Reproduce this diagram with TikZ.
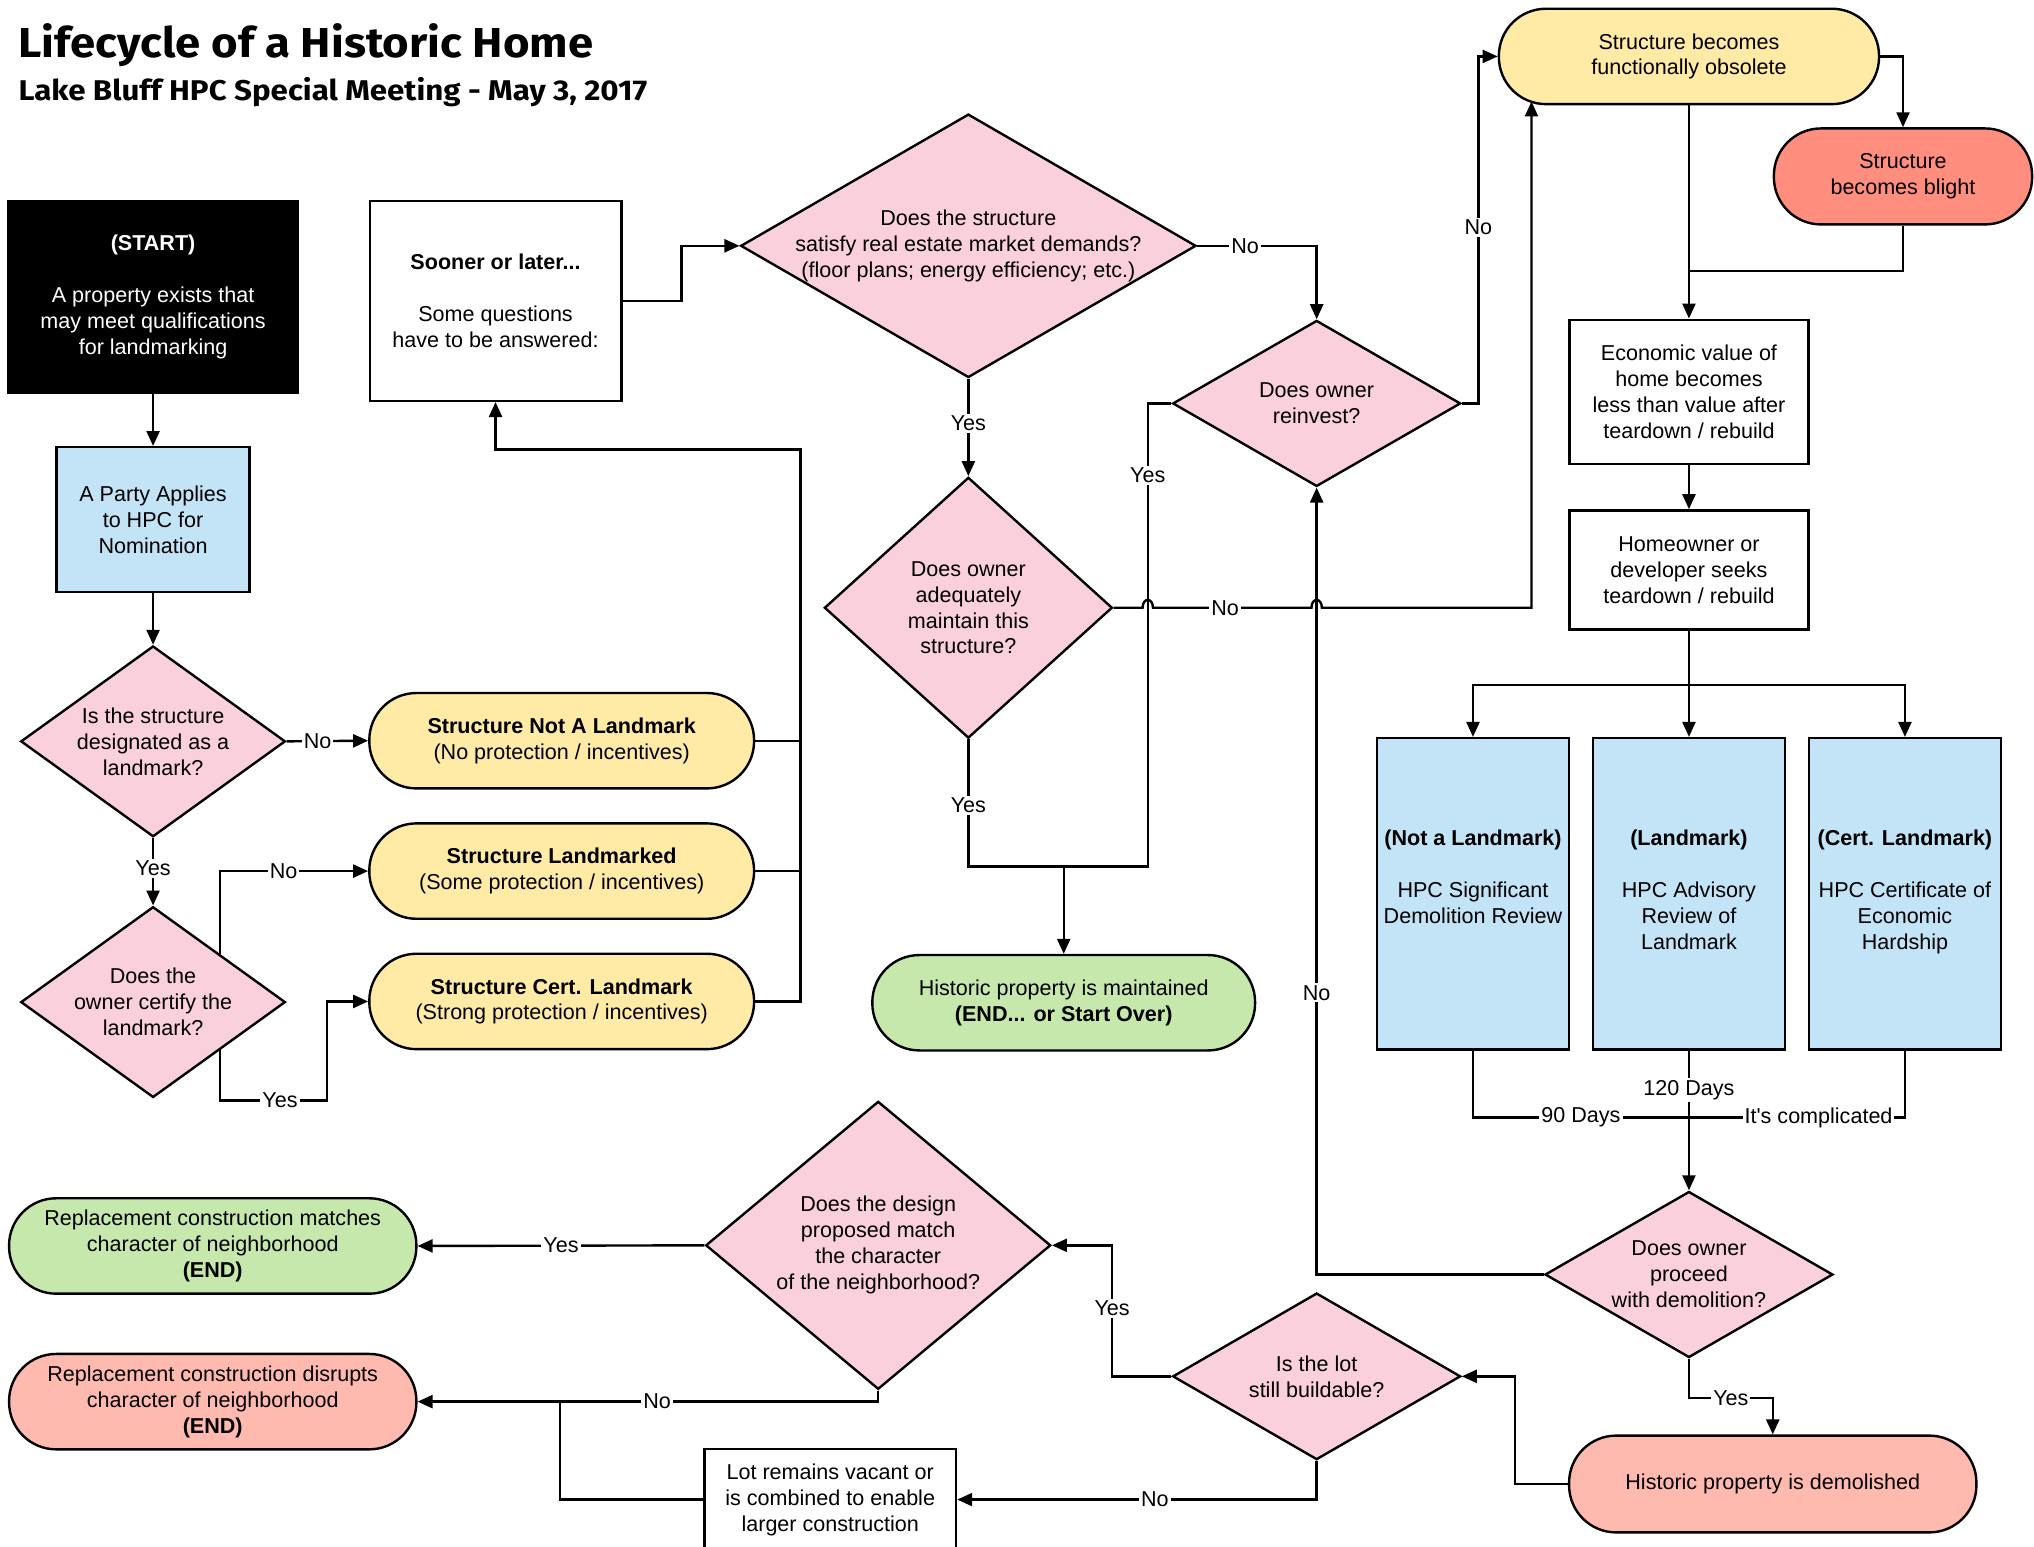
\documentclass[tikz,border=0pt]{standalone}
\usepackage{fontspec}
\usepackage{graphicx}
\setmainfont{Liberation Sans}
\newfontfamily\titlefont{Fira Sans}
\usetikzlibrary{shapes.geometric,arrows.meta}
\definecolor{pinkD}{HTML}{F9D0DC}
\definecolor{yel}{HTML}{FFEBA6}
\definecolor{blu}{HTML}{C2E4F6}
\definecolor{grn}{HTML}{C7E8AC}
\definecolor{redA}{HTML}{FF8E7F}
\definecolor{redB}{HTML}{FFBAB0}
\tikzset{
  ln/.style={line width=1.2pt},
  arr/.style={ln,-{Triangle[length=7.5pt,width=6.5pt]}},
  dia/.style={diamond,draw,ln,fill=pinkD,inner sep=0pt},
  dtext/.style={align=center,inner sep=0pt},
  box/.style={rectangle,draw,ln,align=center,inner sep=0pt},
  term/.style={rectangle,draw,ln,align=center,inner sep=0pt,rounded corners=23.6pt,minimum height=47.8pt},
  lbl/.style={fill=white,inner sep=1pt},
}
\begin{document}
\begin{tikzpicture}[x=0.65pt,y=-0.65pt,font=\fontsize{10.8}{13}\selectfont]
\useasboundingbox (0,0) rectangle (1568,1192);
\clip (0,0) rectangle (1568,1192);

% titles
\node[anchor=base west,inner sep=0] (title) at (14,44.5) {\resizebox{288pt}{17pt}{\titlefont\bfseries Lifecycle of a Historic Home}};
\node[anchor=base west,inner sep=0] (subtitle) at (14,77.5) {\resizebox{315pt}{11.6pt}{\titlefont\bfseries Lake Bluff HPC Special Meeting - May 3, 2017}};

% left column
\node[box,fill=black,text=white,minimum width=145pt,minimum height=96.2pt] (start) at (118,229) {\textbf{(START)}\\[13pt]A property exists that\\may meet qualifications\\for landmarking};
\node[box,fill=blu,minimum width=96.7pt,minimum height=72.5pt] (party) at (118,400.5) {A Party Applies\\to HPC for\\Nomination};
\node[dia,minimum width=132.6pt,minimum height=95.6pt] (d1) at (118,571.5) {};
\node[dtext] (d1t) at (d1) {Is the structure\\designated as a\\landmark?};
\node[dia,minimum width=132.6pt,minimum height=95.6pt] (d2) at (118,772.5) {};
\node[dtext] (d2t) at (d2) {Does the\\owner certify the\\landmark?};

\node[term,fill=yel,minimum width=192.8pt] (notl) at (433,571) {\textbf{Structure Not A Landmark}\\(No protection / incentives)};
\node[term,fill=yel,minimum width=192.8pt] (lmk) at (433,671.5) {\textbf{Structure Landmarked}\\(Some protection / incentives)};
\node[term,fill=yel,minimum width=192.8pt] (cert) at (433,772) {\textbf{Structure Cert. Landmark}\\(Strong protection / incentives)};

\node[box,minimum width=126.1pt,minimum height=100.1pt] (sooner) at (382,232) {\textbf{Sooner or later...}\\[13pt]Some questions\\have to be answered:};

% middle
\node[dia,minimum width=228.2pt,minimum height=132pt] (d3) at (746.5,189.5) {};
\node[dtext] (d3t) at (d3) {Does the structure\\satisfy real estate market demands?\\(floor plans; energy efficiency; etc.)};
\node[dia,minimum width=144.3pt,minimum height=83.2pt] (d4) at (1015,311) {};
\node[dtext] (d4t) at (d4) {Does owner\\reinvest?};
\node[dia,minimum width=144.3pt,minimum height=130.7pt] (d5) at (746.5,468.5) {};
\node[dtext] (d5t) at (d5) {Does owner\\adequately\\maintain this\\structure?};
\node[term,fill=grn,minimum width=191.8pt] (maint) at (820,773) {Historic property is maintained\\\textbf{(END... or Start Over)}};

% right
\node[term,fill=yel,minimum width=190.5pt] (obs) at (1302,43.5) {Structure becomes\\functionally obsolete};
\node[term,fill=redA,minimum width=129.4pt,minimum height=48.1pt] (blight) at (1467,136) {Structure\\becomes blight};
\node[box,minimum width=119.6pt,minimum height=72.2pt] (econ) at (1302,302) {Economic value of\\home becomes\\less than value after\\teardown / rebuild};
\node[box,minimum width=119.6pt,minimum height=59.6pt] (home) at (1302,439.3) {Homeowner or\\developer seeks\\teardown / rebuild};
\node[box,fill=blu,minimum width=96.2pt,minimum height=156pt] (b1) at (1135.5,689) {};
\node[box,fill=blu,minimum width=96.2pt,minimum height=156pt] (b2) at (1302,689) {};
\node[box,fill=blu,minimum width=96.2pt,minimum height=156pt] (b3) at (1468.5,689) {};
\node[dtext,anchor=north] (b1t) at (1135.5,639.5) {\textbf{(Not a Landmark)}\\[13pt]HPC Significant\\Demolition Review};
\node[dtext,anchor=north] (b2t) at (1302,639.5) {\textbf{(Landmark)}\\[13pt]HPC Advisory\\Review of\\Landmark};
\node[dtext,anchor=north] (b3t) at (1468.5,639.5) {\textbf{(Cert. Landmark)}\\[13pt]HPC Certificate of\\Economic\\Hardship};
\node[dia,minimum width=144.3pt,minimum height=83.2pt] (d6) at (1302,982.5) {};
\node[dtext] (d6t) at (d6) {Does owner\\proceed\\with demolition?};
\node[term,fill=redB,minimum width=204.1pt,minimum height=48.5pt] (demo) at (1366.6,1144) {Historic property is demolished};

% bottom
\node[dia,minimum width=144.3pt,minimum height=83.5pt] (d7) at (1015,1061) {};
\node[dtext] (d7t) at (d7) {Is the lot\\still buildable?};
\node[box,minimum width=126.1pt,minimum height=50.7pt] (lot) at (640,1156) {Lot remains vacant or\\is combined to enable\\larger construction};
\node[dia,minimum width=172.9pt,minimum height=144.3pt] (d8) at (677,960) {};
\node[dtext] (d8t) at (d8) {Does the design\\proposed match\\the character\\of the neighborhood?};
\node[term,fill=grn,minimum width=204.1pt] (match) at (164,960.5) {Replacement construction matches\\character of neighborhood\\\textbf{(END)}};
\node[term,fill=redB,minimum width=204.1pt] (disr) at (164,1080.5) {Replacement construction disrupts\\character of neighborhood\\\textbf{(END)}};

% junction coordinates
\coordinate (bus) at (617,346.5);
\coordinate (j1) at (820,668);
\coordinate (j2) at (1302,208.8);
\coordinate (j3) at (1302,528);
\coordinate (j4) at (1302,861.5);
\coordinate (obsin) at (1180.6,78.2);
\coordinate (j5) at (431.8,1080.5);

% connectors left
\draw[arr] (start.south) -- (party.north);
\draw[arr] (party.south) -- (d1.north);
\draw[arr] (d1.east) -- node[lbl,pos=0.38]{No} (notl.west);
\draw[arr] (d1.south) -- node[lbl,pos=0.45]{Yes} (d2.north);
\draw[arr] (d2.north east) |- node[lbl,pos=0.715]{No} (lmk.west);
\draw[arr] (d2.south east) |- node[lbl,pos=0.78]{Yes} (252.3,848.3) |- (cert.west);
\draw[ln] (notl.east) -- (notl.east -| bus);
\draw[ln] (lmk.east) -- (lmk.east -| bus);
\draw[arr] (cert.east) -| (bus) -| (sooner.south);
\draw[arr] (sooner.east) -- (525.5,232) |- (d3.west);

% middle connectors
\draw[arr] (d3.east) -| node[lbl,pos=0.2]{No} (d4.north);
\draw[arr] (d3.south) -- node[lbl,pos=0.46]{Yes} (d5.north);
\draw[arr] (d4.east) -- (1139.6,311) |- node[lbl,pos=0.254]{No} (obs.west);
\draw[arr] (d4.west) -| node[lbl,pos=0.578]{Yes} (884.8,668) -- (j1) -- (maint.north);
\draw[ln] (d5.south) |- node[lbl,pos=0.26]{Yes} (j1);
\draw[arr] (d5.east) -- (880.8,468.5) .. controls (880.8,460.5) and (888.8,460.5) .. (888.8,468.5) -- node[lbl,pos=0.455]{No} (1011,468.5) .. controls (1011,460.5) and (1019,460.5) .. (1019,468.5) -- (1180.6,468.5) -- (obsin);

% right connectors
\draw[arr] (obs.east) -| (blight.north);
\draw[arr] (obs.south) -- (econ.north);
\draw[ln] (blight.south) |- (j2);
\draw[arr] (econ.south) -- (home.north);
\draw[ln] (home.south) -- (j3);
\draw[arr] (j3) -| (b1.north);
\draw[arr] (j3) -| (b3.north);
\draw[arr] (j3) -- (b2.north);
\draw[ln] (b1.south) |- node[lbl,pos=0.75]{90 Days} (j4);
\draw[ln] (b3.south) |- node[lbl,pos=0.70]{It\textquotesingle s complicated} (j4);
\draw[arr] (b2.south) -- node[lbl,pos=0.28]{120 Days} (d6.north);
\draw[arr] (d6.west) -| node[lbl,pos=0.679]{No} (d4.south);
\draw[arr] (d6.south) -- ++(0,30.5) -| node[lbl,pos=0.25]{Yes} (demo.north);
\draw[arr] (demo.west) -- (1168,1144) |- (d7.east);

% bottom connectors
\draw[arr] (d7.west) -| node[lbl,pos=0.76]{Yes} (857.3,960) -- (d8.east);
\draw[arr] (d7.south) |- node[lbl,pos=0.725]{No} (lot.east);
\draw[arr] (d8.west) -- node[lbl,pos=0.5]{Yes} (match.east);
\draw[arr] (d8.south) |- node[lbl,pos=0.74]{No} (disr.east);
\draw[ln] (lot.west) -| (j5);
\end{tikzpicture}
\end{document}
